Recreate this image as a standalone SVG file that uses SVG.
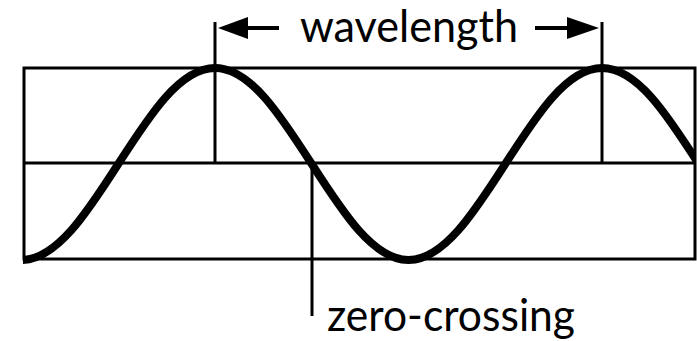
<svg xmlns="http://www.w3.org/2000/svg" width="697" height="341" viewBox="0 0 697 341">
  <style>
    .ln { stroke: #000; stroke-width: 3; fill: none; }
    .wave { stroke: #000; stroke-width: 8; fill: none; }
    .shaft { stroke: #000; stroke-width: 4; fill: none; }
    .lbl { font-family: Lato, "Open Sans", "Liberation Sans", sans-serif; font-size: 44px; fill: #000; }
  </style>
  <defs>
    <clipPath id="frameClip">
      <rect x="23" y="0" width="673" height="341"/>
    </clipPath>
  </defs>
  <rect width="697" height="341" fill="#fff"/>
  <g id="frame">
    <rect class="ln" x="24" y="68" width="671" height="191"/>
    <line class="ln" x1="24" y1="163" x2="695" y2="163"/>
  </g>
  <g id="wave">
    <path class="wave" clip-path="url(#frameClip)" d="M21.5,260 C56.51,260 86.69,213.18 118.25,164 C149.8,114.82 179.98,68 215,68 C250.01,68 280.19,114.82 311.75,164 C343.3,213.18 373.48,260 408.5,260 C443.51,260 473.69,213.18 505.25,164 C536.8,114.82 566.98,68 602,68 C637.01,68 667.19,114.82 698.75,164"/>
  </g>
  <g id="connectors">
    <line class="ln" x1="215" y1="22" x2="215" y2="163"/>
    <line class="ln" x1="602" y1="22" x2="602" y2="163"/>
    <line class="ln" x1="312" y1="163" x2="312" y2="316"/>
    <line class="shaft" x1="246" y1="28" x2="279" y2="28"/>
    <polygon points="218,28 248,17 248,39" fill="#000"/>
    <line class="shaft" x1="535" y1="28" x2="569" y2="28"/>
    <polygon points="599,28 567,17 567,39" fill="#000"/>
  </g>
  <g id="label-wavelength">
    <text class="lbl" x="300" y="41.5" textLength="218" lengthAdjust="spacingAndGlyphs">wavelength</text>
  </g>
  <g id="label-zero-crossing">
    <text class="lbl" x="327" y="330.5" textLength="248" lengthAdjust="spacingAndGlyphs">zero-crossing</text>
  </g>
</svg>
